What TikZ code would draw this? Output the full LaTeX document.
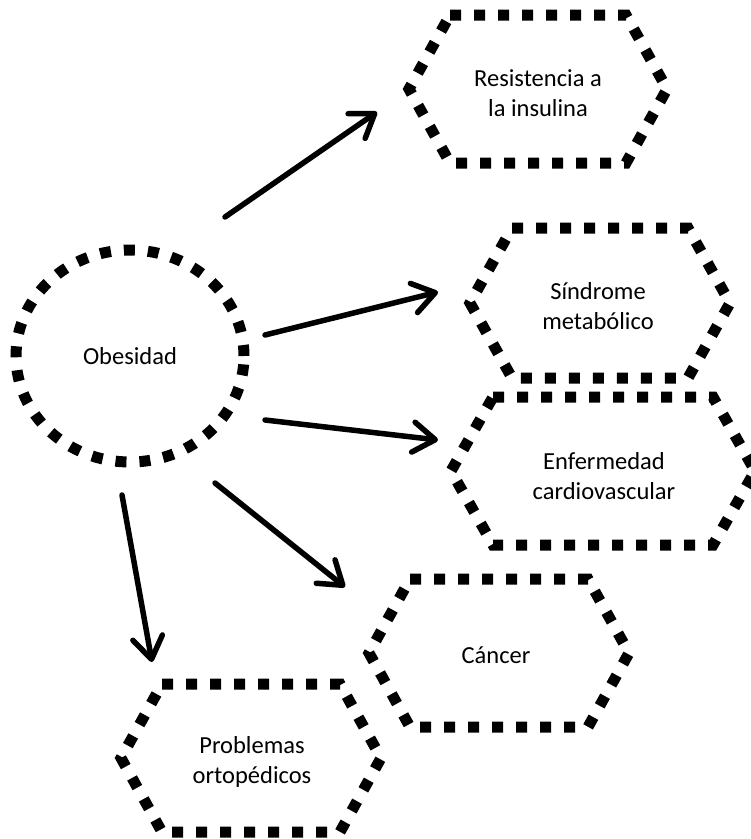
\documentclass[tikz,border=0pt]{standalone}
\usepackage{fontspec}
\setmainfont{Carlito}
\usetikzlibrary{arrows.meta,calc}
\tikzset{
  dotline/.style={line width=11pt, dash pattern=on 11pt off 13pt, line join=miter},
  label/.style={align=center, font=\fontsize{24.5}{30}\selectfont, inner sep=0pt},
  arr/.style={line width=5.5pt, line cap=round, -{Straight Barb[length=22pt,width=30pt,round]}}
}
\newcommand\hexpath[5]{% cx, cy, w, i, h
  \draw[dotline] (#1-#3+#4,#2-#5) -- (#1+#3-#4,#2-#5) -- (#1+#3,#2) -- (#1+#3-#4,#2+#5)
     -- (#1-#3+#4,#2+#5) -- (#1-#3,#2) -- cycle;}
\begin{document}
\begin{tikzpicture}[x=1pt,y=-1pt]
\fill[white] (0,0) rectangle (751,839);
\useasboundingbox (0,0) rectangle (751,839);
% central ellipse
\node[label] (obes) at (130,356) {Obesidad};
\draw[dotline] (obes.center) ellipse [x radius=114pt, y radius=106pt];
% hexagons
\node[label] (h1) at (538,93) {Resistencia a\\la insulina};
\hexpath{538}{89}{129}{41}{74}
\node[label] (h2) at (598,306) {Síndrome\\metabólico};
\hexpath{600}{303}{130}{42}{75}
\node[label] (h3) at (604,476) {Enfermedad\\cardiovascular};
\hexpath{603}{471}{152}{42}{74}
\node[label] (h4) at (496,655) {Cáncer};
\hexpath{499}{653}{130}{41}{74}
\node[label] (h5) at (252,762) {Problemas\\ortopédicos};
\hexpath{251}{758}{130}{41}{74}
% arrow end points
\coordinate (a1s) at (225,217); \coordinate (a1e) at (377,112);
\coordinate (a2s) at (265,335); \coordinate (a2e) at (438,292);
\coordinate (a3s) at (265,420); \coordinate (a3e) at (438,440);
\coordinate (a4s) at (215,483); \coordinate (a4e) at (345,587);
\coordinate (a5s) at (122,495); \coordinate (a5e) at (152,662);
\draw[arr] (a1s) -- (a1e);
\draw[arr] (a2s) -- (a2e);
\draw[arr] (a3s) -- (a3e);
\draw[arr] (a4s) -- (a4e);
\draw[arr] (a5s) -- (a5e);
\end{tikzpicture}
\end{document}
